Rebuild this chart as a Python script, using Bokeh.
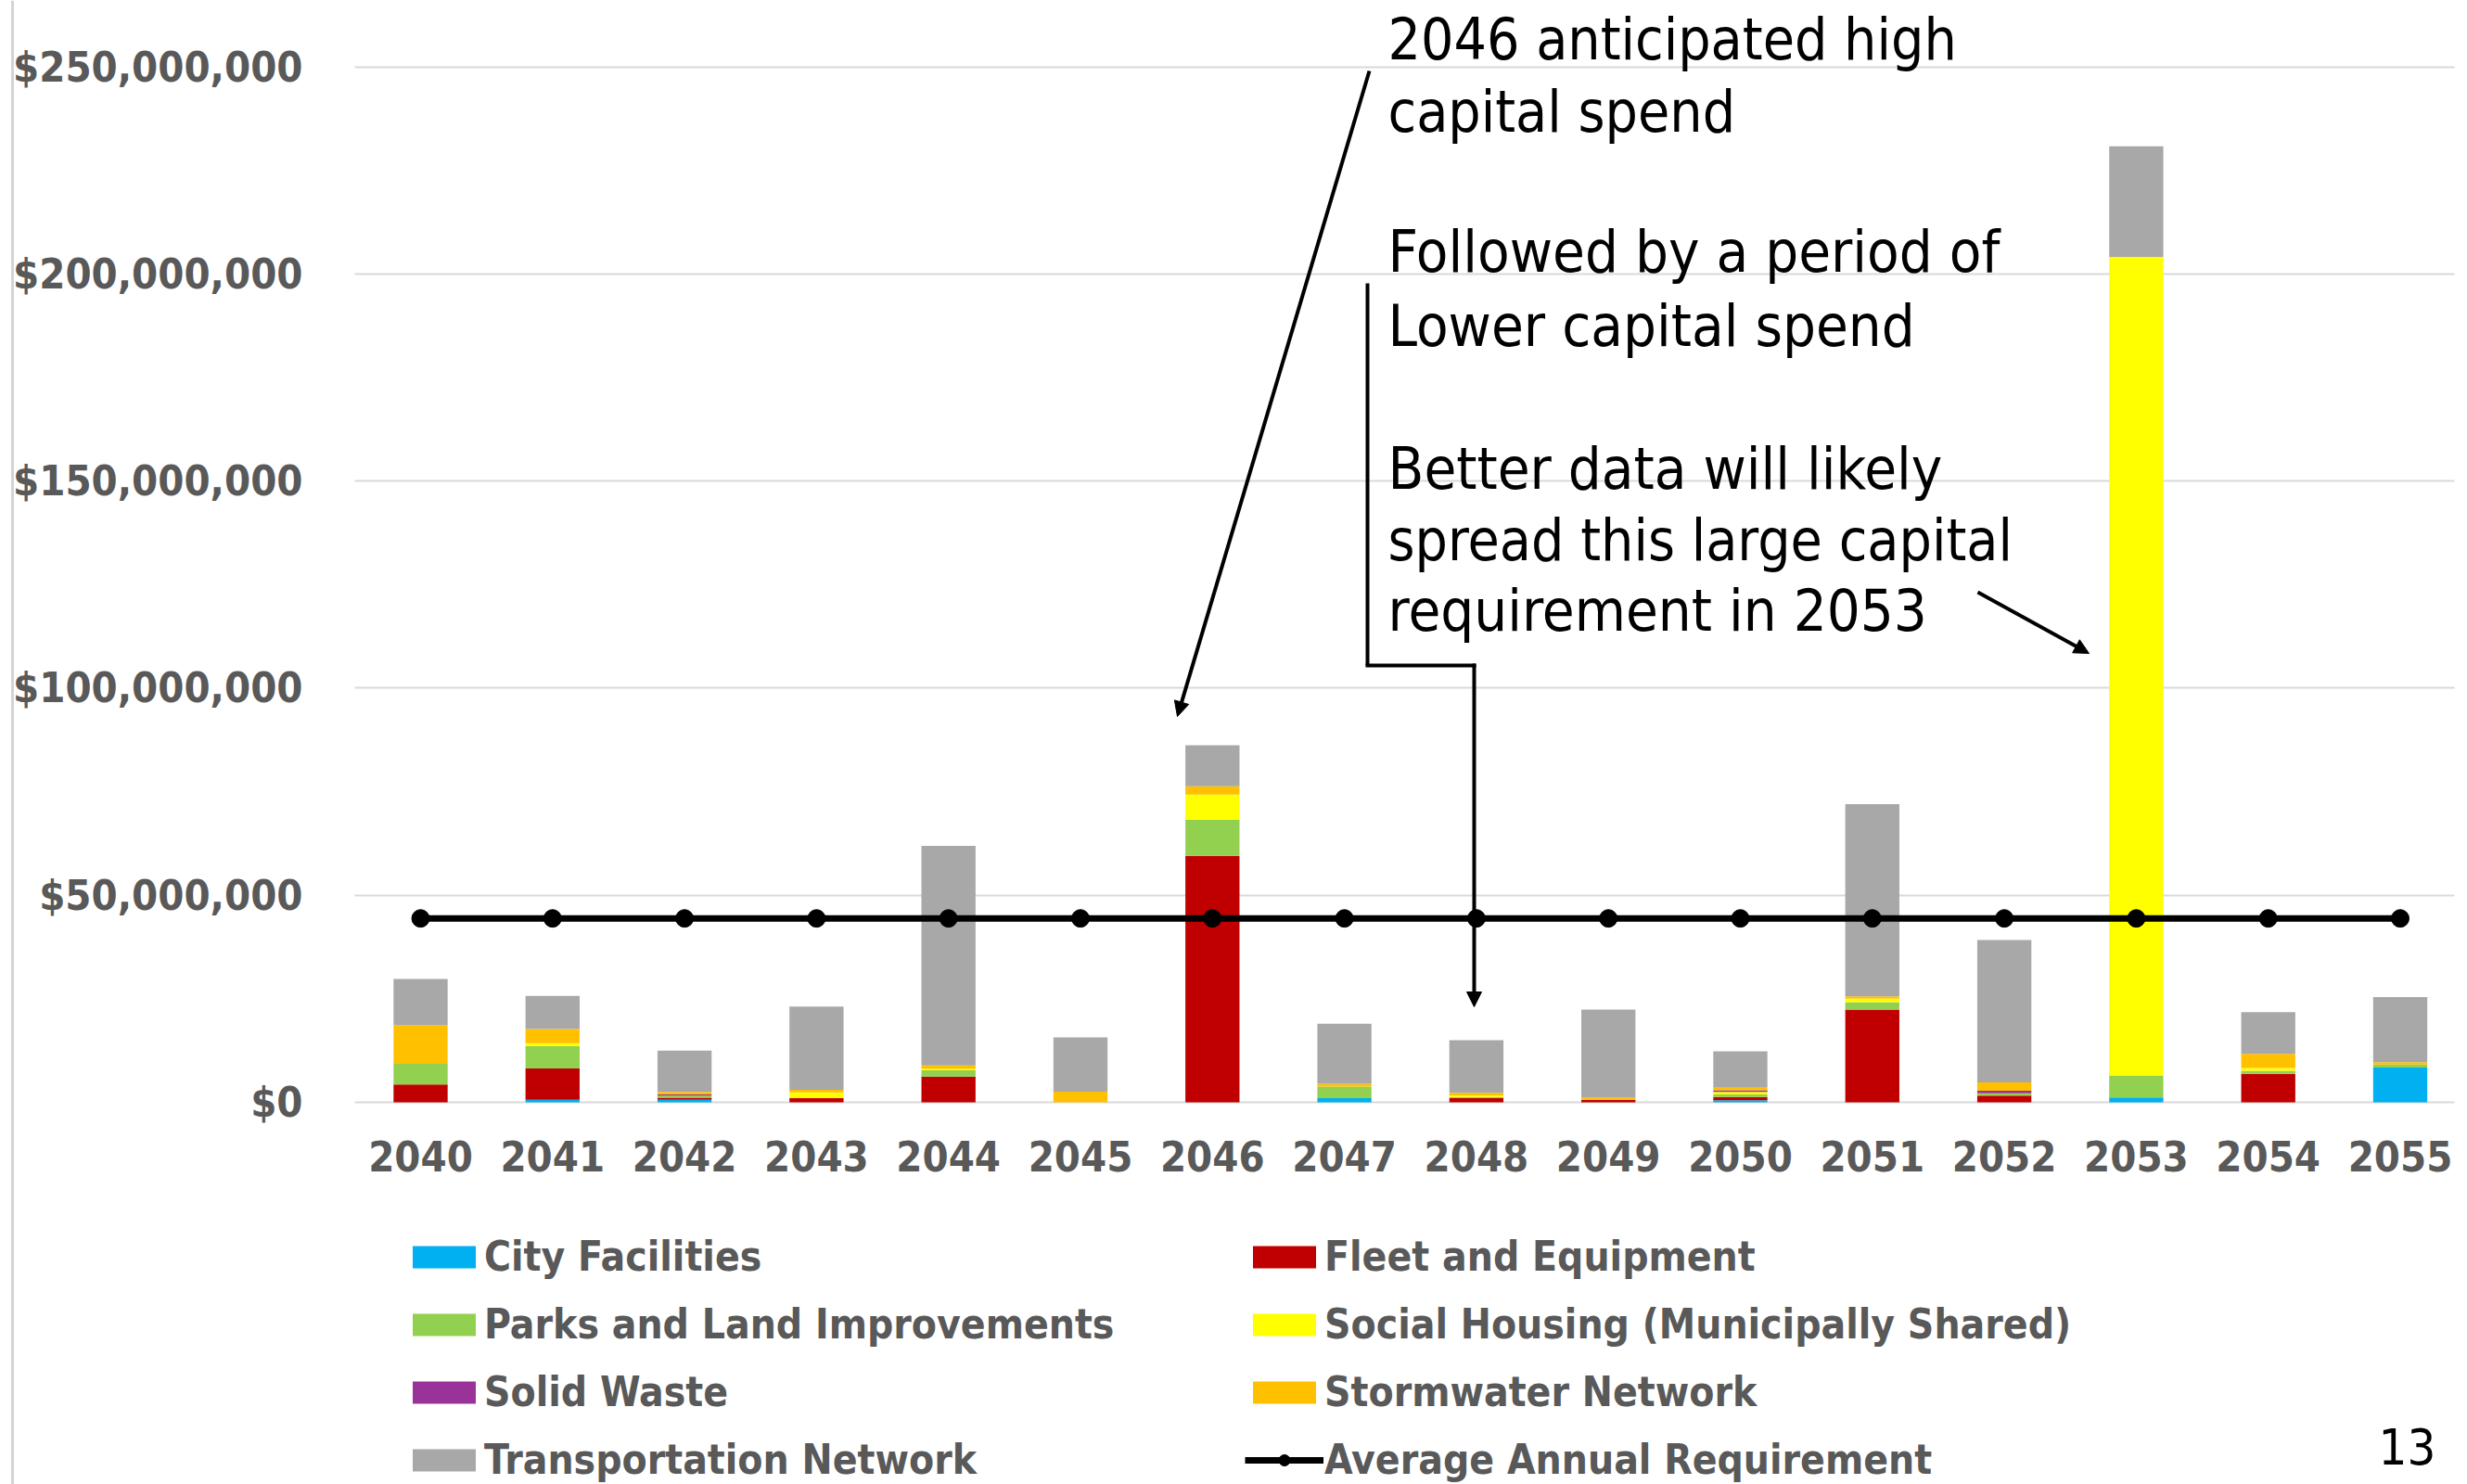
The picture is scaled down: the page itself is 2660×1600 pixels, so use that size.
from bokeh.plotting import figure
from bokeh.models import (ColumnDataSource, FixedTicker, NumeralTickFormatter, Legend,
                          LegendItem, Label, Arrow, NormalHead, Range1d, Span)
from bokeh.embed import file_html
from bokeh.resources import INLINE

# ---------------- data (millions of dollars) ----------------
years = [2040, 2041, 2042, 2043, 2044, 2045, 2046, 2047,
         2048, 2049, 2050, 2051, 2052, 2053, 2054, 2055]
year_labels = ["2040", "2041", "2042", "2043", "2044", "2045", "2046", "2047",
               "2048", "2049", "2050", "2051", "2052", "2053", "2054", "2055"]

city_facilities = [0.0, 0.6, 0.6, 0.0, 0.0, 0.0, 0.0, 1.0, 0.0, 0.0, 0.5, 0.0, 0.0, 1.2, 0.0, 8.4]
fleet_equipment = [4.3, 7.6, 0.5, 1.0, 6.2, 0.0, 59.5, 0.0, 1.0, 0.6, 0.8, 22.4, 1.6, 0.0, 6.9, 0.0]
parks_land      = [5.0, 5.4, 0.5, 0.0, 1.5, 0.0, 8.7, 2.8, 0.3, 0.0, 0.6, 1.8, 0.6, 5.3, 0.7, 0.7]
social_housing  = [0.0, 0.7, 0.0, 1.4, 0.4, 0.0, 6.1, 0.0, 0.3, 0.0, 0.6, 0.8, 0.0, 197.6, 0.7, 0.0]
solid_waste     = [0.0, 0.0, 0.3, 0.0, 0.0, 0.0, 0.0, 0.0, 0.0, 0.0, 0.4, 0.0, 0.6, 0.0, 0.0, 0.0]
stormwater      = [9.3, 3.4, 0.6, 0.6, 0.8, 2.6, 2.0, 0.7, 0.7, 0.5, 0.6, 0.6, 2.0, 0.0, 3.4, 0.6]
transportation  = [11.2, 8.0, 10.0, 20.1, 53.0, 13.1, 9.9, 14.5, 12.7, 21.3, 8.8, 46.4, 34.4, 26.7, 10.1, 15.7]
average_annual  = [44.4, 44.4, 44.4, 44.4, 44.4, 44.4, 44.4, 44.4,
                   44.4, 44.4, 44.4, 44.4, 44.4, 44.4, 44.4, 44.4]

series_names = ["City Facilities", "Fleet and Equipment", "Parks and Land Improvements",
                "Social Housing (Municipally Shared)", "Solid Waste", "Stormwater Network",
                "Transportation Network"]
series_values = [city_facilities, fleet_equipment, parks_land, social_housing,
                 solid_waste, stormwater, transportation]
series_colors = ["#00B0F0", "#C00000", "#92D050", "#FFFF00", "#993399", "#FFC000", "#A8A8A8"]
avg_name = "Average Annual Requirement"

y_ticks = [0, 50_000_000, 100_000_000, 150_000_000, 200_000_000, 250_000_000]

MILLION = 1_000_000
keys = ["s%d" % i for i in range(len(series_names))]
data = {"year": years, "avg": [v * MILLION for v in average_annual]}
for k, vals in zip(keys, series_values):
    data[k] = [v * MILLION for v in vals]
src = ColumnDataSource(data)

# ---------------- layout constants (pixels) ----------------
W, H = 2660, 1600
PX_PER_YEAR = 142.3
FIRST_CENTER_PX = 453.0
ZERO_PX = 1188.0            # y pixel of $0 (from top)
PX_PER_250M = 1116.5
PLOT_LEFT_PX = 382.0
GRID_RIGHT_PX = 2646.0

x0 = years[0] - FIRST_CENTER_PX / PX_PER_YEAR
x1 = x0 + W / PX_PER_YEAR
dollars_per_px = 250_000_000 / PX_PER_250M
y0 = -(H - ZERO_PX) * dollars_per_px
y1 = ZERO_PX * dollars_per_px
x_plot_left = x0 + PLOT_LEFT_PX / PX_PER_YEAR
x_grid_right = x0 + GRID_RIGHT_PX / PX_PER_YEAR

AX_FONT = "DejaVu Sans Condensed"
NOTE_FONT = "DejaVu Sans Condensed"
GRAY_TXT = "#595959"

p = figure(width=W, height=H, x_range=Range1d(x0, x1), y_range=Range1d(y0, y1),
           output_backend="svg", toolbar_location=None, tools="",
           min_border=0, min_border_left=0, min_border_right=0, min_border_top=0,
           min_border_bottom=0)
p.outline_line_color = None
p.background_fill_color = "white"
p.border_fill_color = "white"

bars = p.vbar_stack(keys, x="year", width=0.41, source=src, color=series_colors,
                    line_color=None)

avg_line = p.line("year", "avg", source=src, line_color="black", line_width=7)
avg_dots = p.scatter("year", "avg", source=src, size=19, color="black", marker="circle")

# axes drawn inside the frame
p.yaxis.fixed_location = x_plot_left
p.xaxis.fixed_location = 0
p.yaxis.ticker = FixedTicker(ticks=y_ticks)
p.yaxis.formatter = NumeralTickFormatter(format="$0,0")
p.xaxis.ticker = FixedTicker(ticks=years)
p.xaxis.major_label_overrides = dict(zip(years, year_labels))
for ax in (p.xaxis[0], p.yaxis[0]):
    ax.axis_line_color = None
    ax.major_tick_line_color = None
    ax.minor_tick_line_color = None
    ax.major_label_text_font = AX_FONT
    ax.major_label_text_font_style = "bold"
    ax.major_label_text_font_size = "45px"
    ax.major_label_text_color = GRAY_TXT
p.yaxis.major_label_standoff = 50
p.xaxis.major_label_standoff = 35

p.xgrid.grid_line_color = None
p.ygrid.ticker = FixedTicker(ticks=y_ticks)
p.ygrid.grid_line_color = "#D9D9D9"
p.ygrid.grid_line_width = 2
p.ygrid.cross_bounds = (x_plot_left, x_grid_right)

# thin slide border line on the left
p.add_layout(Span(location=13, location_units="screen", dimension="height",
                  line_color="#D4D4D4", line_width=3))

# legend (two columns, column-major order)
by_name = dict(zip(series_names, bars))
order = ["City Facilities", "Parks and Land Improvements", "Solid Waste", "Transportation Network",
         "Fleet and Equipment", "Social Housing (Municipally Shared)", "Stormwater Network"]
items = [LegendItem(label=n, renderers=[by_name[n]]) for n in order]
items.append(LegendItem(label=avg_name, renderers=[avg_line, avg_dots]))
legend = Legend(items=items, location=(436, 1), orientation="vertical", nrows=4,
                glyph_width=85, glyph_height=30, label_height=24, label_width=798,
                label_standoff=1, spacing=22, padding=0, margin=0,
                border_line_color=None, background_fill_alpha=0,
                label_text_font=AX_FONT, label_text_font_style="bold",
                label_text_font_size="44px", label_text_color=GRAY_TXT)
p.add_layout(legend, "center")

# annotations (screen units: x from left, y up from bottom of the canvas)
def note(text, x, y, size="63px", color="black"):
    p.add_layout(Label(text=text, x=x, y=y, x_units="screen", y_units="screen",
                       text_font=NOTE_FONT, text_font_size=size, text_color=color,
                       text_baseline="alphabetic", text_align="left"))

dy = H - 1596
note("2046 anticipated high", 1496, 1554 + dy, size="62px")
note("capital spend", 1496, 1476 + dy, size="62px")
note("Followed by a period of", 1496, 1325 + dy)
note("Lower capital spend", 1496, 1245 + dy)
note("Better data will likely", 1496, 1091 + dy)
note("spread this large capital", 1496, 1014 + dy, size="62px")
note("requirement in 2053", 1496, 938 + dy)
note("13", 2564, 37 + dy, size="54px")

def arrow(xa, ya, xb, yb, head=True):
    p.add_layout(Arrow(x_start=xa, y_start=ya + dy, x_end=xb, y_end=yb + dy,
                       start_units="screen", end_units="screen",
                       line_color="black", line_width=4,
                       end=NormalHead(size=16, fill_color="black", line_color="black") if head else None))

arrow(1476, 1520, 1269, 824)
arrow(1474, 1291, 1474, 879, head=False)
arrow(1472, 879, 1591, 879, head=False)
arrow(1589, 881, 1589, 511)
arrow(2132, 958, 2252, 892)

open("out.html", "w").write(file_html(p, INLINE))
